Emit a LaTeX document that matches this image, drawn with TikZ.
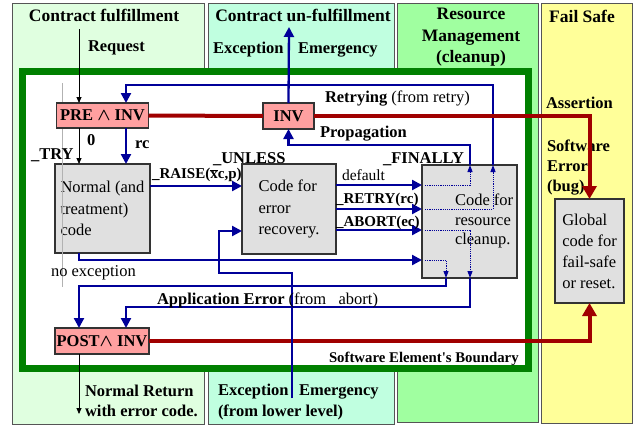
\documentclass[tikz,border=0pt]{standalone}
\usepackage{fontspec}
\setmainfont{Liberation Serif}[Ligatures=TeXOff]
\usetikzlibrary{arrows.meta}
\definecolor{colA}{HTML}{E0FFE0}
\definecolor{colB}{HTML}{C0FFE0}
\definecolor{colC}{HTML}{A0FFA0}
\definecolor{colD}{HTML}{FFFF99}
\definecolor{bnd}{HTML}{008000}
\definecolor{bl}{HTML}{000099}
\definecolor{rd}{HTML}{A00000}
\definecolor{pinkfill}{HTML}{FFA0A0}
\definecolor{grayfill}{HTML}{E0E0E0}
\definecolor{edge}{HTML}{333333}
\definecolor{coledge}{HTML}{555555}
\begin{document}
\begin{tikzpicture}[x=1pt,y=-1pt,
  every node/.style={inner sep=0pt, outer sep=0pt},
  colbox/.style={draw=coledge, line width=1pt},
  head/.style={font=\fontsize{17.5}{21.5}\selectfont\bfseries, align=center},
  lbl/.style={font=\fontsize{16.5}{21}\selectfont\bfseries, anchor=base west},
  lblr/.style={font=\fontsize{16.5}{21}\selectfont, anchor=base west},
  lbls/.style={font=\fontsize{15}{19}\selectfont\bfseries, anchor=base west},
  pinkbox/.style={draw=edge, line width=1.2pt, fill=pinkfill, font=\fontsize{16.5}{21}\selectfont\bfseries},
  graybox/.style={draw=edge, line width=1.2pt, fill=grayfill, font=\fontsize{16.5}{21.5}\selectfont, align=left},
  boxtext/.style={font=\fontsize{16.5}{19.5}\selectfont, align=left},
  bluearr/.style={draw=bl, line width=2.3pt, -{Triangle[length=10pt,width=10pt]}},
  dotarr/.style={draw=bl, line width=1pt, dash pattern=on 1.2pt off 1pt, -{Triangle[length=7pt,width=5pt]}},
  redarr/.style={draw=rd, line width=4pt, -{Triangle[length=13pt,width=14pt]}},
  redline/.style={draw=rd, line width=4pt},
  blkarr/.style={draw=black, line width=0.8pt, -{Triangle[length=6pt,width=5pt]}},
]
\useasboundingbox (0,0) rectangle (634,426);
\fill[white] (0,0) rectangle (634,426);
% columns
\draw[colbox, fill=colA] (12,3) rectangle (204,424);
\draw[colbox, fill=colB] (208,3) rectangle (394,424);
\draw[colbox, fill=colC] (397,3) rectangle (538,422);
\draw[colbox, fill=colD] (541,3) rectangle (632,423);
\node[head, anchor=base] (h1) at (104,21) {Contract fulfillment};
\node[head, anchor=base] (h2) at (303,21) {Contract un-fulfillment};
\node[head, anchor=north] (h3) at (471,8.5) {Resource\\Management\\(cleanup)};
\node[head, anchor=base] (h4) at (582,22) {Fail Safe};
\node[lbl] (req) at (88,51) {Request};
\node[lbl] (exc1) at (213,53) {Exception};
\node[lbl] (emg1) at (298,53) {Emergency};
\node[lbl] (asr) at (546,108) {Assertion};
\node[lbl, anchor=north west, align=left, font=\fontsize{16.5}{20}\selectfont\bfseries] (swe) at (547,140) {Software\\Error\\(bug)};
\node[lbl] (nr1) at (85,396) {Normal Return};
\node[lbl] (nr2) at (85,416) {with error code.};
\node[lbl] (exc2) at (218,395) {Exception};
\node[lbl] (emg2) at (299,395) {Emergency};
\node[lbl] (fll) at (218,416) {(from lower level)};
% boundary
\draw[draw=bnd, line width=7pt, fill=white] (22.5,71.5) rectangle (528,368);
% boxes
\node[graybox, minimum width=95pt, minimum height=89pt] (normal) at (102.5,208.5) {Normal (and\\treatment)\\code};
\draw[gray!60, line width=0.7pt] (62,83) -- (62,287);
\node[pinkbox, minimum width=92pt, minimum height=25pt] (pre) at (102.5,115.5) {PRE {\boldmath$\wedge$} INV};
\node[pinkbox, minimum width=51pt, minimum height=26pt] (inv) at (288.5,116) {INV};
\node[pinkbox, minimum width=94pt, minimum height=26pt] (post) at (102,341) {POST{\boldmath$\wedge$} INV};
\node[graybox, minimum width=94pt, minimum height=90pt] (recov) at (289,209) {Code for\\error\\recovery.};
\node[graybox, minimum width=95pt, minimum height=113pt] (cleanup) at (469.5,221.5) {};
\node[boxtext, anchor=north west] (cltext) at (455,194) {Code for\\resource\\cleanup.};
\node[graybox, minimum width=69pt, minimum height=104pt, font=\fontsize{16.5}{21}\selectfont] (global) at (589.5,251) {Global\\code for\\fail-safe\\or reset.};
% free ends
\coordinate (reqtop) at (79,29);
\coordinate (rettip) at (79,414);
\coordinate (cuftip) at (289,27);
\coordinate (lowtop) at (292,398);
% black arrows
\draw[blkarr] (reqtop) -- (pre.north -| 79,0);
\draw[blkarr] (pre.south -| 79,0) -- (normal.north -| 79,0);
\draw[blkarr] (post.south -| 79,0) -- (rettip);
% blue
\draw[bluearr] (inv.north) -- (cuftip);
\draw[bluearr] (pre.south -| 126,0) -- (normal.north -| 126,0);
\draw[bluearr] (normal.east |- 0,186) -- (recov.west |- 0,186);
\draw[bluearr] (recov.east |- 0,185) -- (cleanup.west |- 0,185);
\draw[bluearr] (recov.east |- 0,209) -- (cleanup.west |- 0,209);
\draw[bluearr] (recov.east |- 0,230) -- (cleanup.west |- 0,230);
\draw[bluearr] (normal.south -| 79,0) |- (cleanup.west |- 0,260);
\draw[bluearr] (cleanup.north -| 470,0) -- (470,145) -| (inv.south);
\draw[bluearr] (cleanup.north -| 493,0) -- (493,85) -| (pre.north -| 126,0);
\draw[bluearr] (cleanup.south -| 446,0) -- (446,286) -| (post.north -| 79,0);
\draw[bluearr] (cleanup.south -| 470,0) -- (470,307) -| (post.north -| 126,0);
\draw[dotarr] (425,185) -| (cleanup.north -| 470,0);
\draw[dotarr] (425,209) -| (cleanup.north -| 493,0);
\draw[dotarr] (425,230) -| (cleanup.south -| 470,0);
\draw[dotarr] (425,260) -| (cleanup.south -| 446,0);
% red
\draw[redline] (pre.east) -- (inv.west);
\draw[redarr] (inv.east) -| (global.north);
\draw[redarr] (post.east) -| (global.south);
\draw[bluearr] (lowtop) -- (292,273) -- (219,273) |- (recov.west |- 0,231);
% labels
\node[lbl] (lzero) at (87,145) {0};
\node[lbl] (lrc) at (135,148) {rc};
\node[lbl] (ltry) at (31,159) {\_TRY};
\node[lbls] (lraise) at (152,178) {\_RAISE($\overline{\hbox{x}}$c,p)};
\node[lbl] (lunless) at (213,163) {\_UNLESS};
\node[lbl] (lfinally) at (383,163) {\_FINALLY};
\node[lblr, font=\fontsize{15.5}{19}\selectfont] (ldef) at (342,180) {default};
\node[lbls] (lretry) at (336,203) {\_RETRY(rc)};
\node[lbls] (labort) at (336,226) {\_ABORT(ec)};
\node[lblr] (lnoex) at (51,276) {no exception};
\node[lbl] (lapp) at (157,304) {Application Error \textmd{(from\ \ \ abort)}};
\node[lbl] (lretrying) at (325,102) {Retrying \textmd{(from retry)}};
\node[lbl] (lprop) at (320,137) {Propagation};
\node[lbl, font=\fontsize{14.8}{18}\selectfont\bfseries] (lbound) at (329,362) {Software Element's Boundary};
\end{tikzpicture}
\end{document}
